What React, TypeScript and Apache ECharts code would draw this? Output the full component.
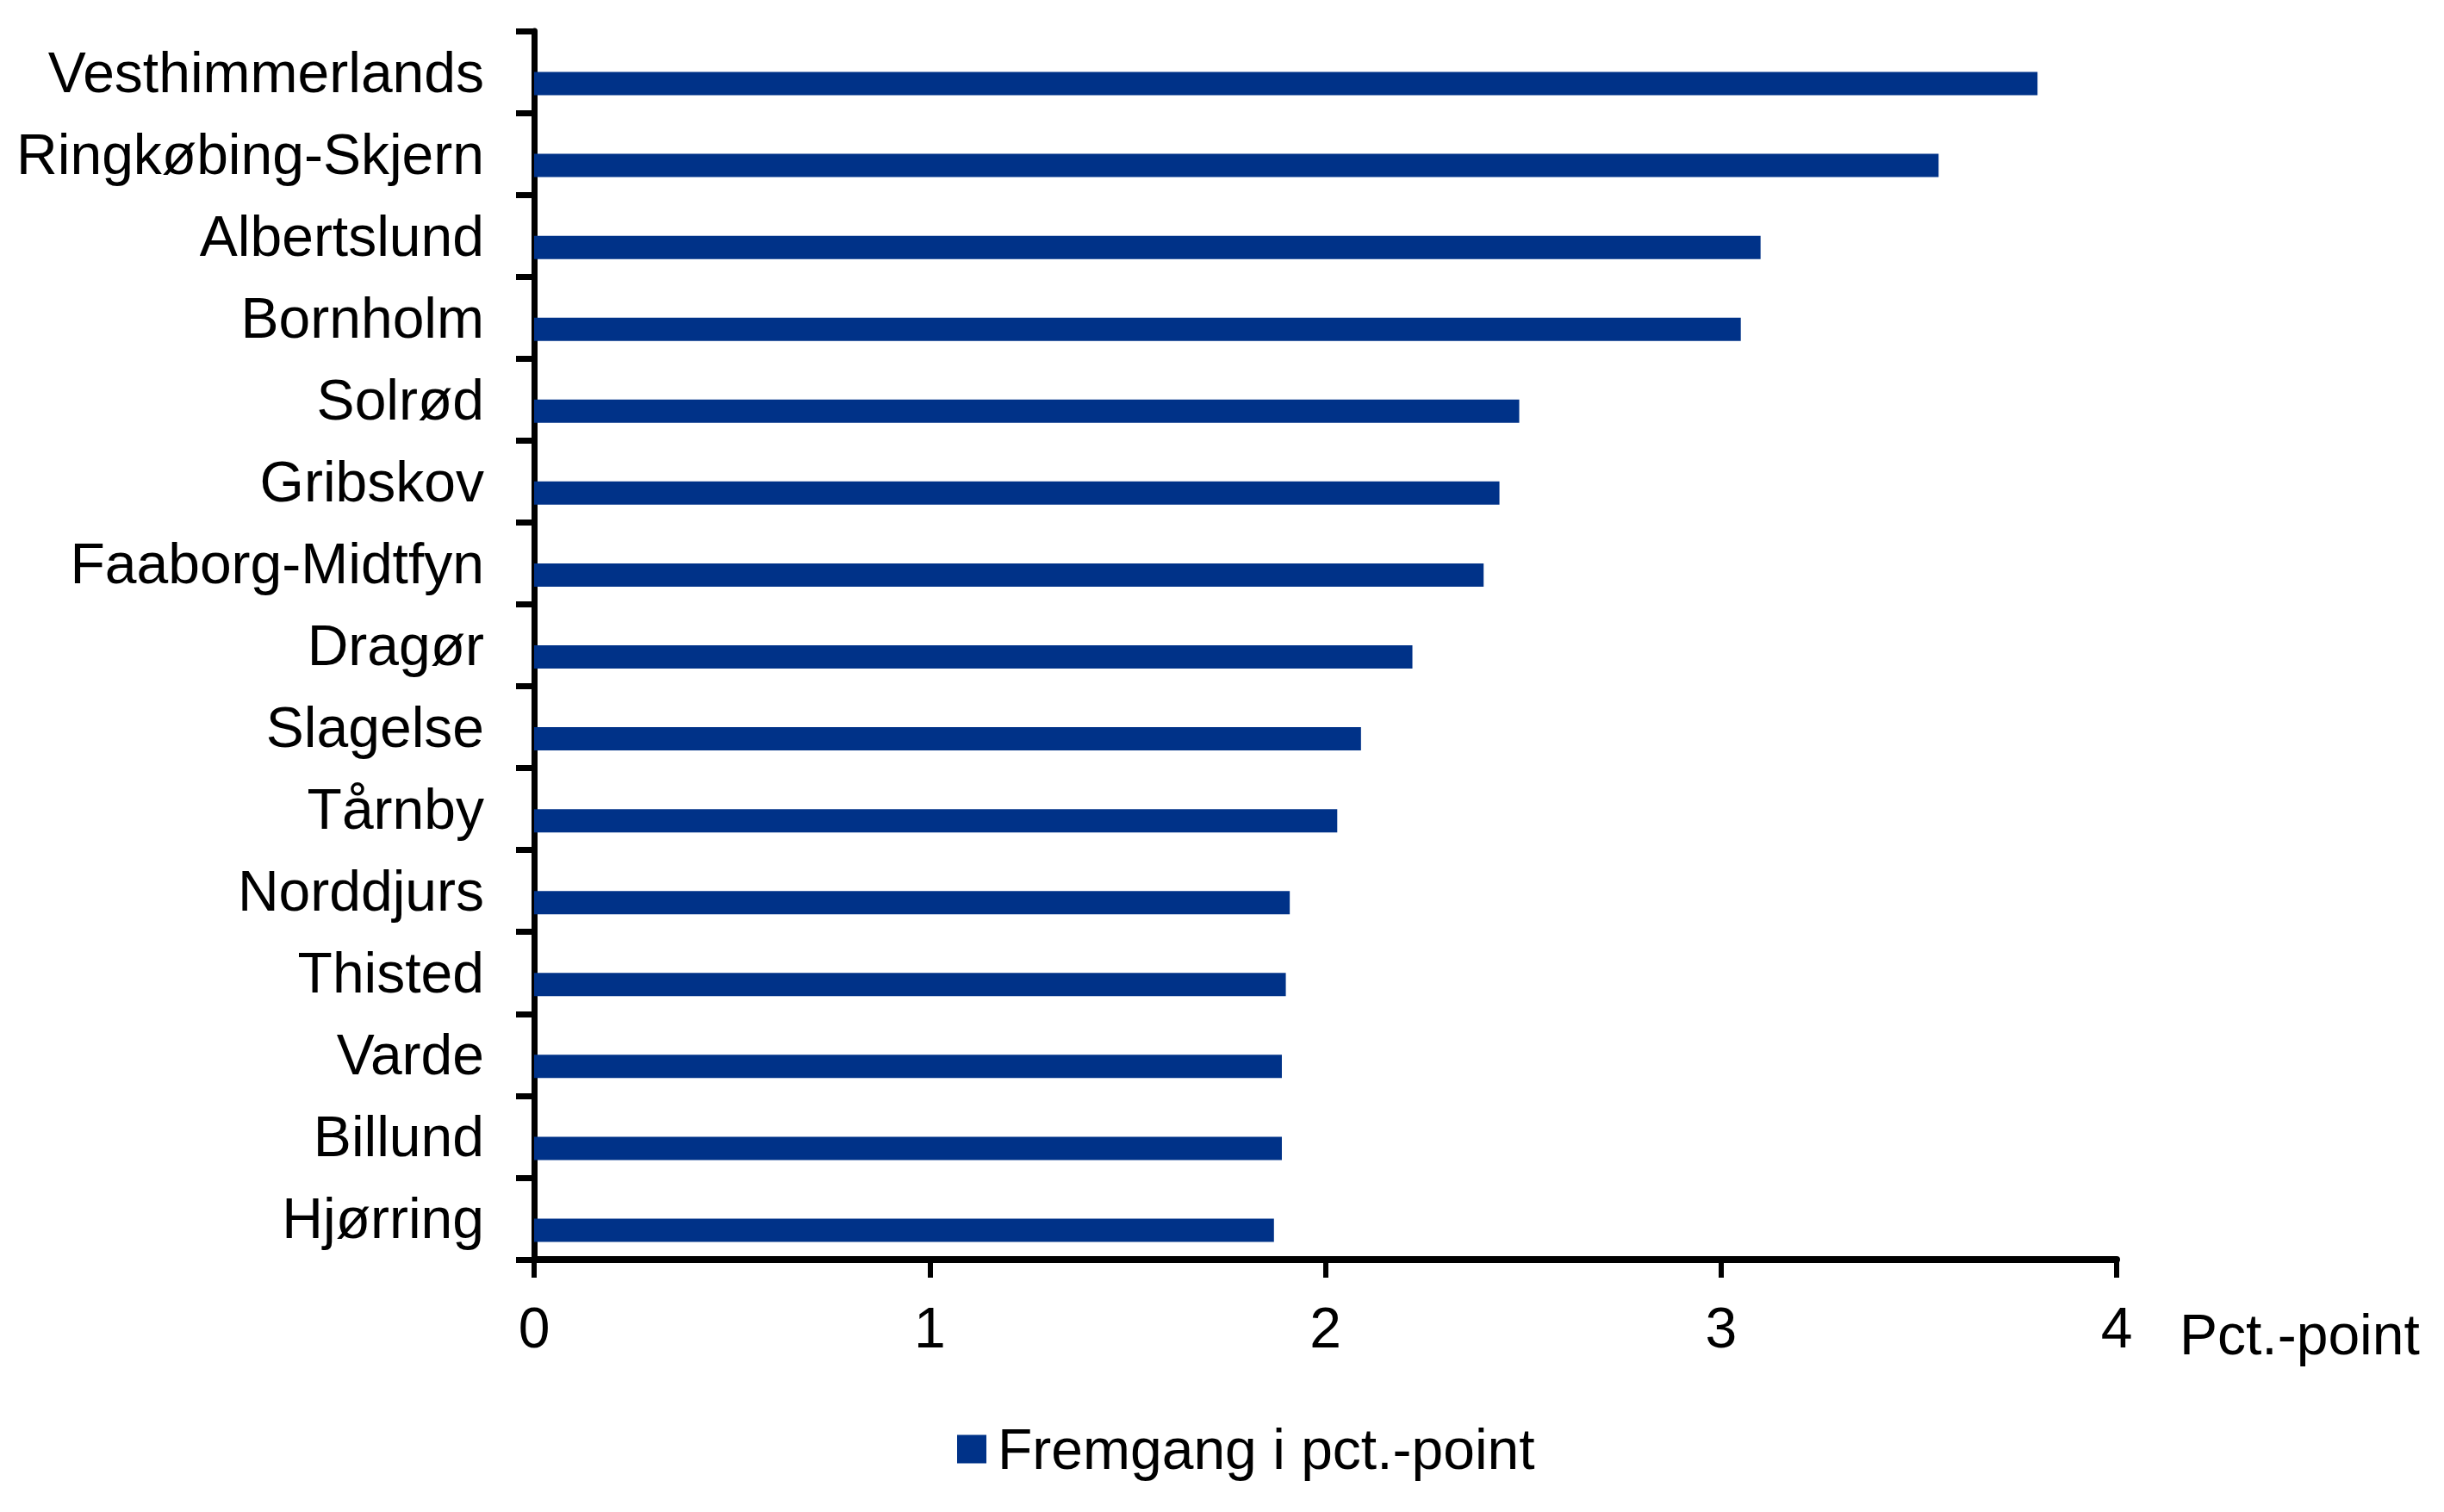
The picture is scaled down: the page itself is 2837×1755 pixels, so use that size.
import React, { useEffect, useRef } from "react";
import * as echarts from "echarts";

const categories = [
  "Vesthimmerlands",
  "Ringkøbing-Skjern",
  "Albertslund",
  "Bornholm",
  "Solrød",
  "Gribskov",
  "Faaborg-Midtfyn",
  "Dragør",
  "Slagelse",
  "Tårnby",
  "Norddjurs",
  "Thisted",
  "Varde",
  "Billund",
  "Hjørring",
];

const fremgang = [3.8, 3.55, 3.1, 3.05, 2.49, 2.44, 2.4, 2.22, 2.09, 2.03, 1.91, 1.9, 1.89, 1.89, 1.87];
const emptySeries = categories.map(() => null);

const seriesName = "Fremgang i pct.-point";
const axisUnit = "Pct.-point";
const xMin = 0;
const xMax = 4;
const xInterval = 1;

const FONT = "'Liberation Sans', Arial, Helvetica, sans-serif";
const BAR_COLOR = "#003288";

export default function App() {
  const ref = useRef<HTMLDivElement>(null);

  useEffect(() => {
    if (!ref.current) return;
    const chart = echarts.init(ref.current, undefined, { renderer: "svg" });
    chart.setOption({
      animation: false,
      backgroundColor: "#ffffff",
      grid: { left: 620, right: 380, top: 36, bottom: 293 },
      legend: {
        data: [seriesName],
        left: 1106,
        top: 1644,
        icon: "rect",
        itemWidth: 34,
        itemHeight: 33,
        textStyle: { fontSize: 66, fontFamily: FONT, color: "#000", padding: [0, 0, 0, 8] },
      },
      xAxis: {
        type: "value",
        min: xMin,
        max: xMax,
        interval: xInterval,
        axisLine: { show: true, onZero: false, lineStyle: { color: "#000", width: 8 } },
        axisTick: { show: true, length: 21, lineStyle: { color: "#000", width: 6 } },
        splitLine: { show: false },
        axisLabel: { fontSize: 66, fontFamily: FONT, color: "#000", margin: 46 },
      },
      yAxis: {
        type: "category",
        inverse: true,
        data: categories,
        axisLine: { show: true, lineStyle: { color: "#000", width: 7 } },
        axisTick: { show: true, length: 21, lineStyle: { color: "#000", width: 7 } },
        axisLabel: { fontSize: 66, fontFamily: FONT, color: "#000", margin: 58 },
      },
      series: [
        {
          name: "_gap",
          type: "bar",
          data: emptySeries,
          barWidth: 27,
          barGap: "0%",
          itemStyle: { color: "transparent" },
        },
        {
          name: seriesName,
          type: "bar",
          data: fremgang,
          barWidth: 27,
          barGap: "0%",
          itemStyle: { color: BAR_COLOR },
        },
      ],
      graphic: [
        {
          type: "text",
          x: 2530,
          y: 1549,
          style: {
            text: axisUnit,
            fontSize: 66,
            fontFamily: FONT,
            fill: "#000",
            verticalAlign: "middle",
            align: "left",
          },
        },
      ],
    });
    return () => chart.dispose();
  }, []);

  return (
    <div
      ref={ref}
      style={{ position: "absolute", left: 0, top: 0, width: 2837, height: 1755, background: "#fff" }}
    />
  );
}
